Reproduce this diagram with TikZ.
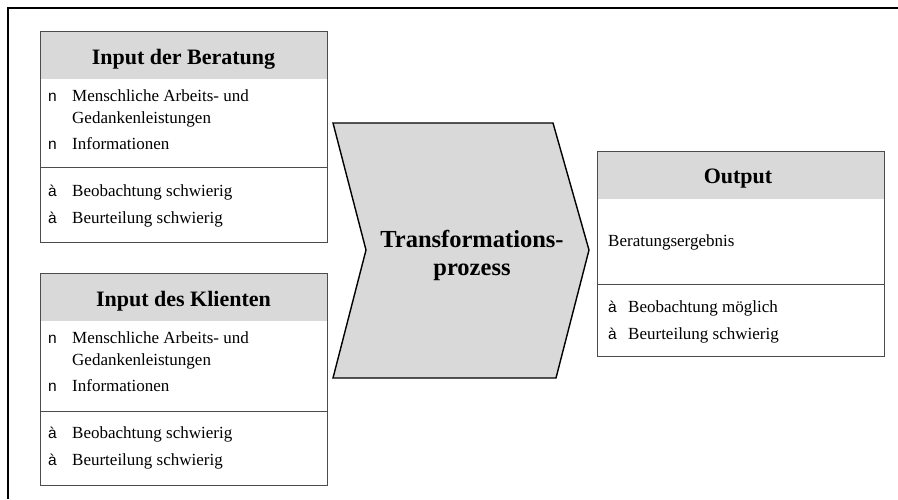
\documentclass[tikz,border=0pt]{standalone}
\usepackage{fontspec}
\setmainfont{Liberation Serif}
\newfontfamily\punktfont{Liberation Sans}
\usepackage{tikz}
\usetikzlibrary{positioning}
\definecolor{kopfgrau}{gray}{0.85}
\definecolor{rahmengrau}{gray}{0.3}

\tikzset{
  kasten/.style={draw=rahmengrau, line width=0.9pt, anchor=north west, inner sep=0pt,
    minimum width=287pt},
  kopf/.style={fill=kopfgrau, anchor=north west, inner sep=0pt,
    minimum width=287pt, minimum height=48pt},
  trenner/.style={draw=rahmengrau, line width=0.9pt},
  titel/.style={anchor=base, inner sep=0pt, font=\bfseries\fontsize{22}{26}\selectfont},
  txt/.style={anchor=base west, inner sep=0pt, font=\fontsize{17}{21}\selectfont},
  pkt/.style={anchor=base west, inner sep=0pt, font=\punktfont\fontsize{15.5}{17}\selectfont},
  prozess/.style={draw=black, line width=1.4pt, fill=kopfgrau}
}

\begin{document}
\begin{tikzpicture}[x=1pt, y=-1pt]
  \useasboundingbox (0,0) rectangle (898,499);
  \draw[line width=2pt] (8,499) -- (8,8) -- (898,8);

  % Input der Beratung
  \node[kopf] (ib-kopf) at (40,31) {};
  \node[kasten, minimum height=211pt] (ib) at (40,31) {};
  \draw[trenner] (ib.north west) ++(0,136) -- ++(287,0);
  \node[titel] (ib-titel) at (183.5,64) {Input der Beratung};
  \node[pkt] (ib-p1) at (48,101) {n};
  \node[txt] (ib-1) at (72,101) {Menschliche Arbeits- und};
  \node[txt] (ib-1b) at (72,123) {Gedankenleistungen};
  \node[pkt] (ib-p2) at (48,149) {n};
  \node[txt] (ib-2) at (72,149) {Informationen};
  \node[pkt] (ib-p3) at (48,196) {à};
  \node[txt] (ib-3) at (72,196) {Beobachtung schwierig};
  \node[pkt] (ib-p4) at (48,223) {à};
  \node[txt] (ib-4) at (72,223) {Beurteilung schwierig};

  % Input des Klienten
  \node[kopf] (ik-kopf) at (40,273) {};
  \node[kasten, minimum height=212pt] (ik) at (40,273) {};
  \draw[trenner] (ik.north west) ++(0,138) -- ++(287,0);
  \node[titel] (ik-titel) at (183.5,306) {Input des Klienten};
  \node[pkt] (ik-p1) at (48,343) {n};
  \node[txt] (ik-1) at (72,343) {Menschliche Arbeits- und};
  \node[txt] (ik-1b) at (72,365) {Gedankenleistungen};
  \node[pkt] (ik-p2) at (48,391) {n};
  \node[txt] (ik-2) at (72,391) {Informationen};
  \node[pkt] (ik-p3) at (48,438) {à};
  \node[txt] (ik-3) at (72,438) {Beobachtung schwierig};
  \node[pkt] (ik-p4) at (48,465) {à};
  \node[txt] (ik-4) at (72,465) {Beurteilung schwierig};

  % Transformationsprozess
  \draw[prozess] (333,123) -- (553,123) -- (589,250) -- (556,378)
    -- (333,378) -- (366,250) -- cycle;
  \node[inner sep=0pt, align=center, font=\bfseries\fontsize{24.5}{28}\selectfont]
    (tp) at (472,255) {Transformations-\\prozess};

  % Output
  \node[kopf] (out-kopf) at (597,151) {};
  \node[kasten, minimum height=205pt] (out) at (597,151) {};
  \draw[trenner] (out.north west) ++(0,133) -- ++(287,0);
  \node[titel] (out-titel) at (738,183) {Output};
  \node[txt] (out-1) at (608,246) {Beratungsergebnis};
  \node[pkt] (out-p2) at (608,312) {à};
  \node[txt] (out-2) at (628,312) {Beobachtung möglich};
  \node[pkt] (out-p3) at (608,339) {à};
  \node[txt] (out-3) at (628,339) {Beurteilung schwierig};
\end{tikzpicture}
\end{document}
